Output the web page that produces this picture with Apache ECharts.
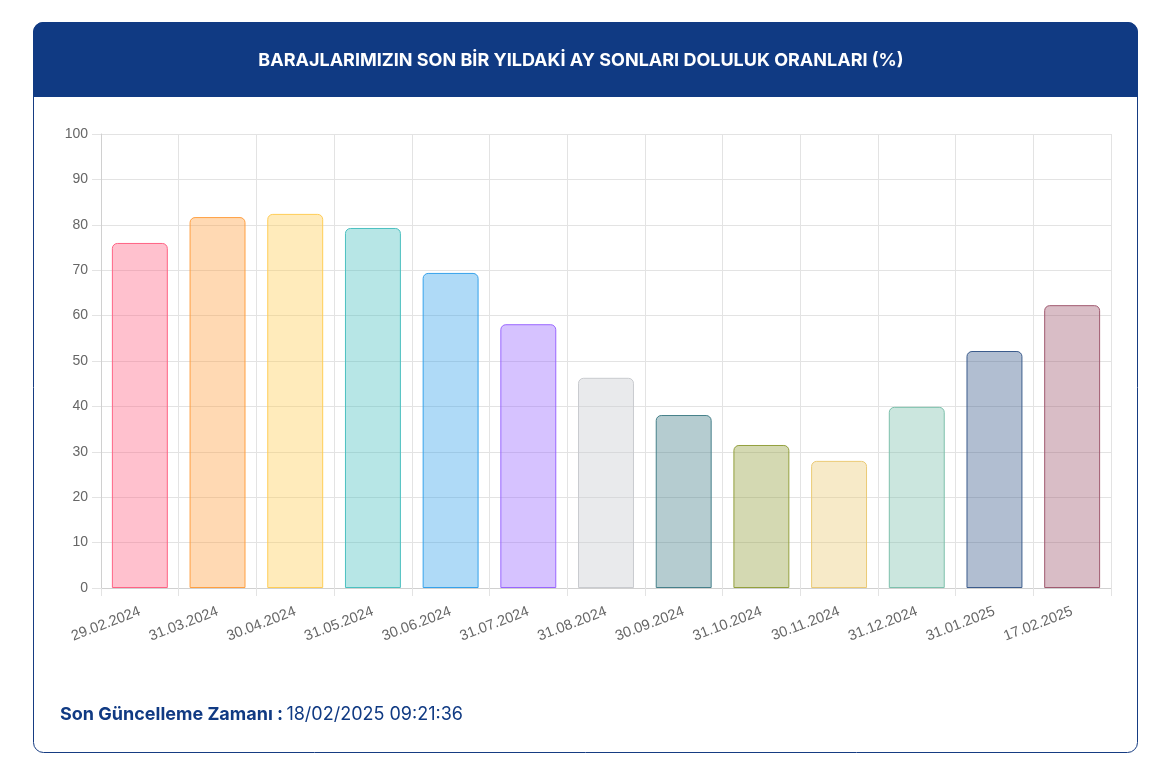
<!DOCTYPE html>
<html>
<head>
<meta charset="utf-8">
<script src="https://cdn.jsdelivr.net/npm/echarts@6/dist/echarts.min.js"></script>
<style>
html,body{margin:0;padding:0;background:#fff;}
#chart{width:1162px;height:777px;}
</style>
</head>
<body>
<div id="chart"></div>
<script>
const categories = ['29.02.2024','31.03.2024','30.04.2024','31.05.2024','30.06.2024','31.07.2024','31.08.2024','30.09.2024','31.10.2024','30.11.2024','31.12.2024','31.01.2025','17.02.2025'];
const values = [76.0, 81.7, 82.4, 79.3, 69.4, 58.1, 46.3, 38.1, 31.5, 28.0, 39.9, 52.2, 62.3];
const borderColors = ['rgb(255,99,132)','rgb(255,159,64)','rgb(255,205,86)','rgb(75,192,192)','rgb(54,162,235)','rgb(153,102,255)','rgb(201,203,207)','rgb(70,128,138)','rgb(147,160,62)','rgb(235,202,117)','rgb(125,192,172)','rgb(60,92,140)','rgb(160,90,112)'];
const titleText = 'BARAJLARIMIZIN SON BİR YILDAKİ AY SONLARI DOLULUK ORANLARI (%)';
const footerLabel = 'Son Güncelleme Zamanı :';
const footerTime = '18/02/2025 09:21:36';

function fillOf(c){ return c.replace('rgb(','rgba(').replace(')',',0.4)'); }

const chart = echarts.init(document.getElementById('chart'), null, {renderer:'canvas'});
chart.setOption({
  animation:false,
  backgroundColor:'#fff',
  graphic:[
    {type:'rect', z:-10, shape:{x:33.5,y:22.5,width:1104,height:730,r:10}, style:{fill:'#fff',stroke:'#163c82',lineWidth:1}},
    {type:'rect', z:-9, shape:{x:33,y:22,width:1105,height:75,r:[10,10,0,0]}, style:{fill:'#103a83'}},
    {type:'text', z:5, left:'center', top:52, style:{text:titleText, fill:'#fff', font:'bold 18px Inter, "Noto Sans", sans-serif'}},
    {type:'text', z:5, left:60, top:706, style:{
      text:'{a|'+footerLabel+'} {b|'+footerTime+'}',
      rich:{
        a:{fill:'#103a83', fontSize:18, fontWeight:'bold', fontFamily:'Inter, "Noto Sans", sans-serif'},
        b:{fill:'#103a83', fontSize:18, fontFamily:'Inter, "Noto Sans", sans-serif'}
      }
    }}
  ],
  grid:{left:101, right:51, top:134, bottom:189, containLabel:false},
  xAxis:{
    type:'category', data:categories, boundaryGap:true,
    axisLine:{show:true, lineStyle:{color:'#d0d0d0'}},
    axisTick:{show:true, length:8, alignWithLabel:false, lineStyle:{color:'#e3e3e3'}},
    splitLine:{show:true, lineStyle:{color:'#e3e3e3'}},
    axisLabel:{rotate:21, color:'#666', fontSize:14.5, fontFamily:'"Liberation Sans", Arial, sans-serif', margin:23, interval:0}
  },
  yAxis:{
    type:'value', min:0, max:100, interval:10,
    axisLine:{show:true, lineStyle:{color:'#d0d0d0'}},
    axisTick:{show:true, length:9, lineStyle:{color:'#e3e3e3'}},
    splitLine:{show:true, lineStyle:{color:'#e3e3e3'}},
    axisLabel:{color:'#666', fontSize:14, fontFamily:'"Liberation Sans", Arial, sans-serif', margin:13}
  },
  series:[{
    type:'bar',
    barWidth:'72%',
    data: values.map((v,i)=>({value:v, itemStyle:{color:fillOf(borderColors[i]), borderColor:borderColors[i], borderWidth:1, borderRadius:[5,5,0,0]}}))
  }]
});
</script>
</body>
</html>
